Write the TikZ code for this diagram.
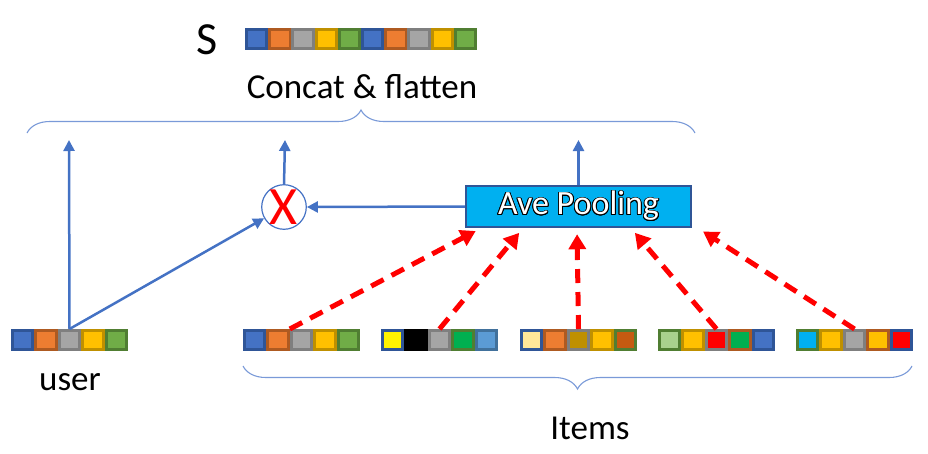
\documentclass[tikz,border=0pt]{standalone}
\usepackage{fontspec}
\setmainfont{Carlito}
\usepackage{contour}
\usetikzlibrary{arrows.meta,decorations.pathreplacing,calc}

\definecolor{cblue}{HTML}{4472C4}
\definecolor{dblue}{HTML}{2F5597}
\definecolor{corange}{HTML}{ED7D31}
\definecolor{dorange}{HTML}{AE5A21}
\definecolor{cgray}{HTML}{A5A5A5}
\definecolor{dgray}{HTML}{7F7F7F}
\definecolor{cgold}{HTML}{FFC000}
\definecolor{dgold}{HTML}{BF9000}
\definecolor{cgreen}{HTML}{70AD47}
\definecolor{dgreen}{HTML}{507E32}
\definecolor{vgreen}{HTML}{00B050}
\definecolor{lblue}{HTML}{5B9BD5}
\definecolor{mblue}{HTML}{41719C}
\definecolor{lyellow}{HTML}{FFE699}
\definecolor{rust}{HTML}{C55A11}
\definecolor{lgreen}{HTML}{A9D18E}
\definecolor{cyan}{HTML}{00B0F0}
\definecolor{brace}{HTML}{7A9AD8}

\tikzset{
  cell/.style={draw,line width=3pt,minimum width=20.4pt,minimum height=19pt,inner sep=0pt},
  blueline/.style={draw=cblue,line width=2.5pt,-{Triangle[length=11pt,width=11pt]}},
  redline/.style={draw=red,line width=5pt,dash pattern=on 14pt off 9pt,-{Triangle[length=15pt,width=17pt]}},
  bracket/.style={draw=brace,line width=1.1pt,decorate,decoration={brace,amplitude=23pt}},
  lbl/.style={font=\fontsize{35}{40}\selectfont},
}

% one row of cells: name, left x, centre y, fill/border list
\newcommand\cellrow[4]{%
  \foreach \f/\b [count=\i] in {#4}
    \node[cell,fill=\f,draw=\b] (#1-\i) at ({#2+(\i-0.5)*23.4},#3) {};
}

\begin{document}
\begin{tikzpicture}[x=1pt,y=-1pt]
\useasboundingbox (0,0) rectangle (928,453);

% output
\node[font=\fontsize{46}{50}\selectfont] (s) at (207,40) {S};
\foreach \f/\b [count=\i] in {cblue/dblue,corange/dorange,cgray/dgray,cgold/dgold,cgreen/dgreen,
                              cblue/dblue,corange/dorange,cgray/dgray,cgold/dgold,cgreen/dgreen}
  \node[cell,fill=\f,draw=\b] (s-\i) at ({245+(\i-0.5)*23.2},39) {};
\node[lbl] (concat) at (362,87) {Concat \& flatten};
\draw[bracket] (27,133) -- (695,133);

% user
\cellrow{u}{11}{340}{cblue/dblue,corange/dorange,cgray/dgray,cgold/dgold,cgreen/dgreen}
\node[lbl] (user) at (70,382) {user};

% items
\cellrow{i1}{243}{340}{cblue/dblue,corange/dorange,cgray/dgray,cgold/dgold,cgreen/dgreen}
\cellrow{i2}{381}{340}{yellow/dblue,black/black,cgray/dgray,vgreen/dgreen,lblue/mblue}
\cellrow{i3}{520}{340}{lyellow/dblue,corange/dorange,dgold/dgray,cgold/dgold,rust/dgreen}
\cellrow{i4}{658}{340}{lgreen/dgreen,cgold/dgold,red/dgray,vgreen/dorange,cblue/dblue}
\cellrow{i5}{796}{340}{cyan/dgreen,cgold/dgold,cgray/dgray,cgold/dorange,red/dblue}
\draw[bracket] (912,366) -- (243,366);
\node[lbl] (items) at (590,428) {Items};

% pooling and product
\node[draw=dblue,fill=cyan,line width=2.5pt,minimum width=225pt,minimum height=41pt,
      font=\fontsize{34}{38}\selectfont,text=white] (ave) at (578.5,206.5)
      {\contourlength{0.9pt}\contour{black}{Ave Pooling}};
\node[circle,draw=cblue,line width=1.2pt,minimum size=40pt,inner sep=0pt,
      font=\fontsize{54}{54}\selectfont,text=red] (mul) at (284,207) {X};

\coordinate (t1) at (69,140);
\coordinate (t2) at (285,140);
\coordinate (t3) at (578.5,140);

\draw[blueline] (u-3.north) -- (t1);
\draw[blueline] (u-3.north) -- (mul);
\draw[blueline] (mul.north) -- (t2);
\draw[blueline] (ave.north) -- (t3);
\draw[blueline] (ave.west) -- (mul.east);

\draw[redline,shorten >=6pt] (i1-3.north west) -- ([xshift=-97.5pt]ave.south);
\draw[redline,shorten >=6pt] (i2-3.north) -- ([xshift=-55.5pt]ave.south);
\draw[redline,shorten >=6pt] (i3-3.north) -- ([xshift=-1.5pt]ave.south);
\draw[redline,shorten >=6pt] (i4-3.north) -- ([xshift=52.5pt]ave.south);
\draw[redline,shorten >=6pt] (i5-3.north) -- ([xshift=119.5pt]ave.south);
\end{tikzpicture}
\end{document}
